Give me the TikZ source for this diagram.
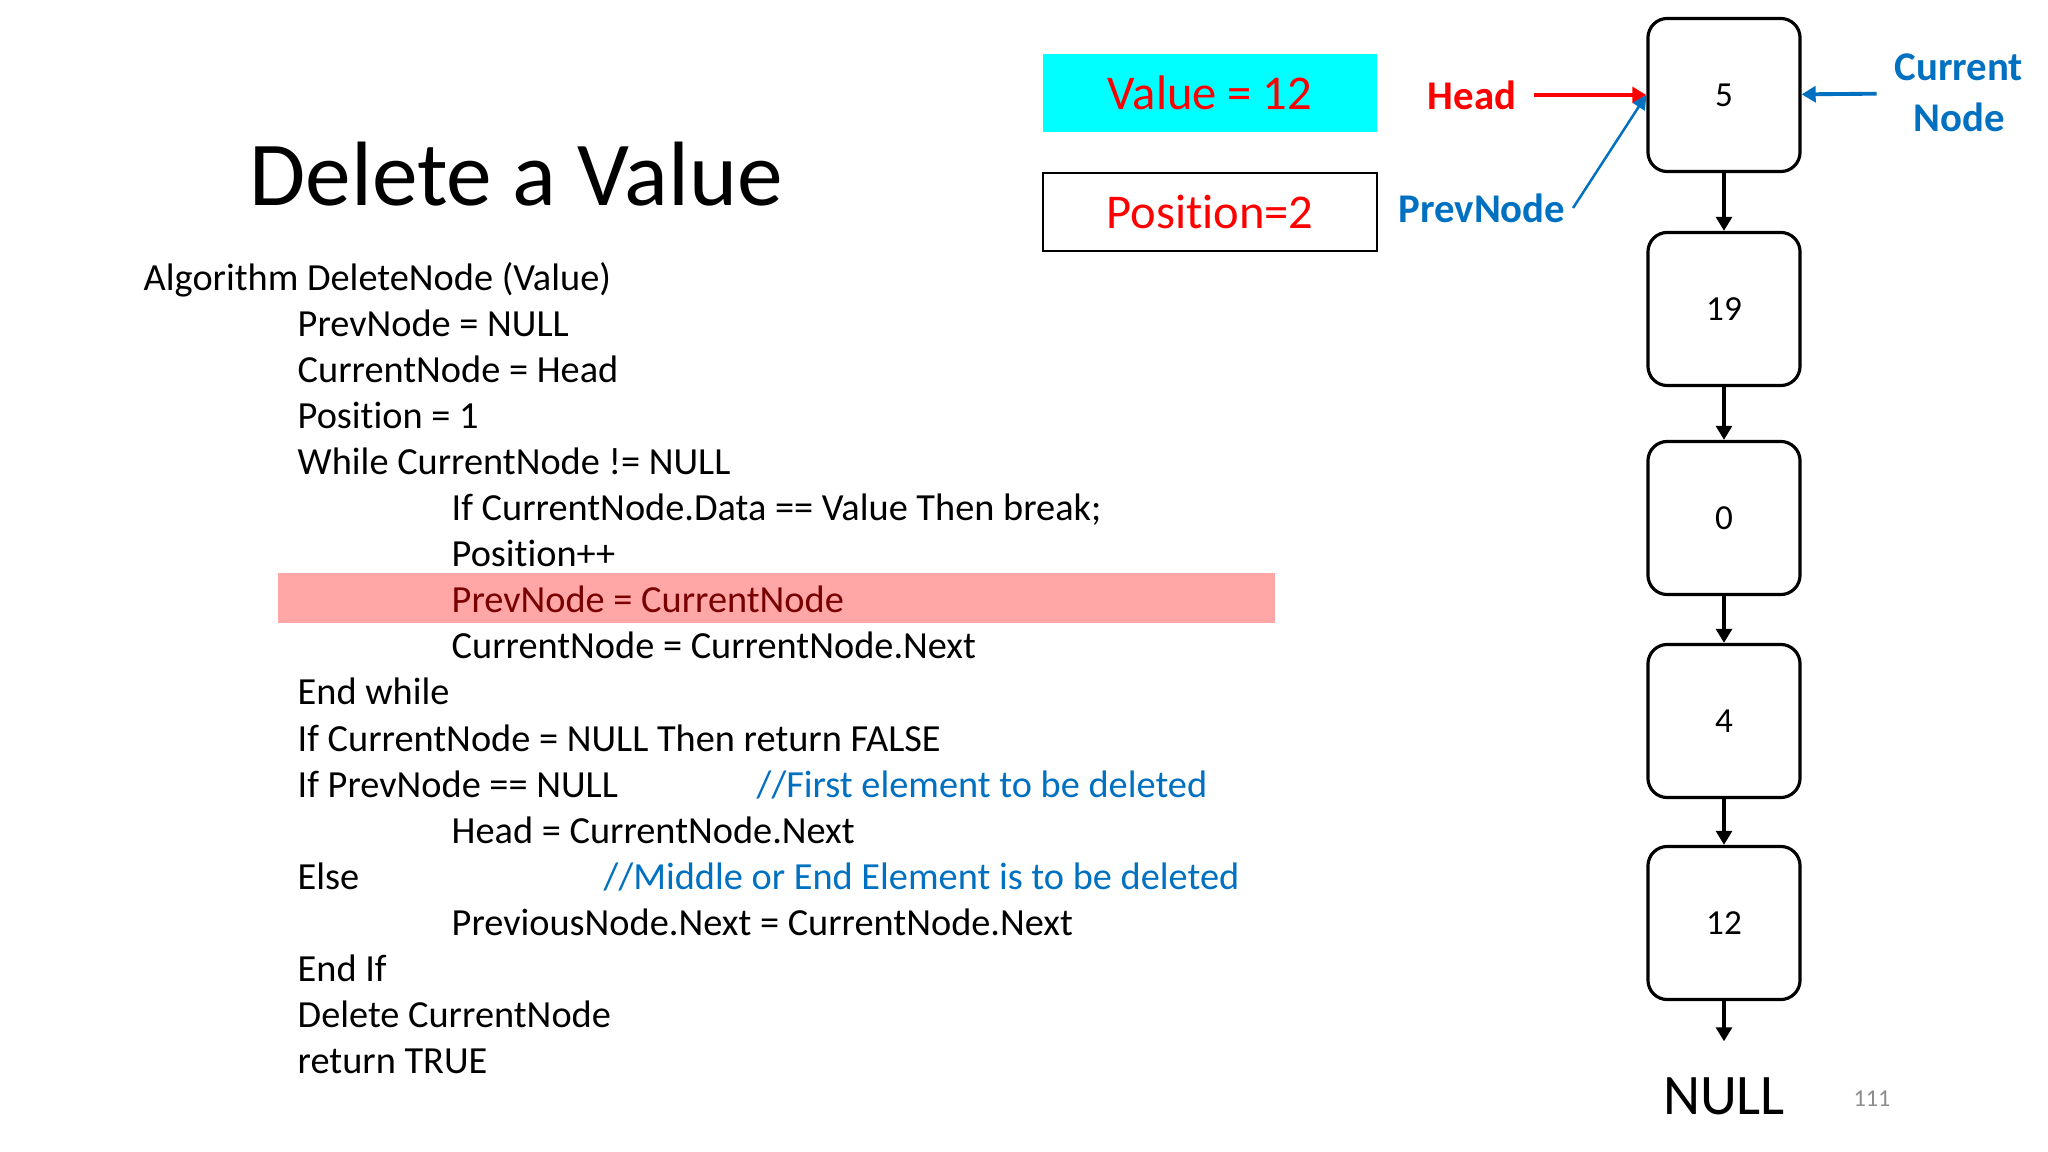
\documentclass[tikz,border=0pt]{standalone}
\usepackage{fontspec}
\setmainfont[Ligatures=NoCommon]{Carlito}
\usetikzlibrary{arrows.meta, backgrounds}

\definecolor{slideblue}{RGB}{0,112,192}
\definecolor{valcyan}{RGB}{0,255,255}
\definecolor{markpink}{RGB}{255,166,166}
\definecolor{markred}{RGB}{120,0,0}
\definecolor{pagegray}{RGB}{140,140,140}

\tikzset{
	listbox/.style={draw, line width=0.9pt, rounded corners=5.5pt,
		minimum width=1.52cm, minimum height=1.53cm,
		font=\fontsize{10}{12}\selectfont},
	nextarrow/.style={-{Triangle[length=4pt, width=4.5pt]}, line width=1.3pt},
	codeline/.style={anchor=base west, inner sep=0pt,
		font=\fontsize{10.9}{13}\selectfont},
	pointer/.style={font=\bfseries\fontsize{11.6}{14.5}\selectfont},
	infobox/.style={minimum width=3.33cm, minimum height=0.78cm, text=red,
		font=\fontsize{13.8}{16}\selectfont}
}

\begin{document}
\begin{tikzpicture}[x=0.01cm, y=-0.01cm]
	\useasboundingbox (0,0) rectangle (2048,1152);

	% --- title
	\node[anchor=base, font=\fontsize{26}{30}\selectfont] (title) at (516,206) {Delete a Value};

	% --- algorithm text
	% highlighted line
	\fill[markpink] (278,573) rectangle (1275,623);
	\foreach \lx/\lcol/\ltxt [count=\ln] in {
		143/black/{Algorithm DeleteNode (Value)},
		297/black/{PrevNode = NULL},
		297/black/{CurrentNode = Head},
		297/black/{Position = 1},
		297/black/{While CurrentNode != NULL},
		451/black/{If CurrentNode.Data == Value Then break;},
		451/black/{Position++},
		451/markred/{PrevNode = CurrentNode},
		451/black/{CurrentNode = CurrentNode.Next},
		297/black/{End while},
		297/black/{If CurrentNode = NULL Then return FALSE},
		297/black/{If PrevNode == NULL},
		451/black/{Head = CurrentNode.Next},
		297/black/{Else},
		451/black/{PreviousNode.Next = CurrentNode.Next},
		297/black/{End If},
		297/black/{Delete CurrentNode},
		297/black/{return TRUE}}
	\node[codeline, text=\lcol] (code\ln) at (\lx,{291+46*(\ln-1)}) {\ltxt};

	% comments
	\node[codeline, text=slideblue] (cmtfirst) at (756,797) {//First element to be deleted};
	\node[codeline, text=slideblue] (cmtmiddle) at (603,889) {//Middle or End Element is to be deleted};

	% --- value and position
	\node[infobox, fill=valcyan] (valbox) at (1210,93) {Value = 12};
	\node[infobox, draw, line width=0.6pt] (posbox) at (1210,212) {Position=2};

	% --- the list
	\foreach \val/\ny [count=\k] in {5/95, 19/309, 0/518, 4/721, 12/923}
	\node[listbox] (item\k) at (1724,\ny) {\val};
	\foreach \a/\b in {1/2, 2/3, 3/4, 4/5}
	\draw[nextarrow] (item\a) -- (item\b);

	\node[anchor=base, inner ysep=10pt, font=\fontsize{16.3}{19}\selectfont] (null) at (1724,1114) {NULL};
	\draw[nextarrow] (item5) -- (null);

	% --- pointers
	\node[pointer, text=red, inner xsep=5pt] (head) at (1472,95) {Head};
	\draw[red, -{Triangle[length=4pt, width=4.5pt]}, line width=1.1pt] (head) -- (item1);

	\node[pointer, text=slideblue, inner xsep=2pt] (prev) at (1482,208) {PrevNode};
	\draw[slideblue, -{Triangle[length=4pt, width=4pt]}, line width=0.7pt] (prev.east) -- (item1.west);

	\node[pointer, text=slideblue, align=center, inner xsep=5pt] (cur) at (1959,93) {Current\\Node};
	\draw[slideblue, -{Triangle[length=4pt, width=4.5pt]}, line width=1.1pt] (cur) -- (item1);

	% page number
	\node[anchor=base, text=pagegray, font=\fontsize{6.9}{8}\selectfont] (pagenum) at (1872,1106) {111};
\end{tikzpicture}
\end{document}
